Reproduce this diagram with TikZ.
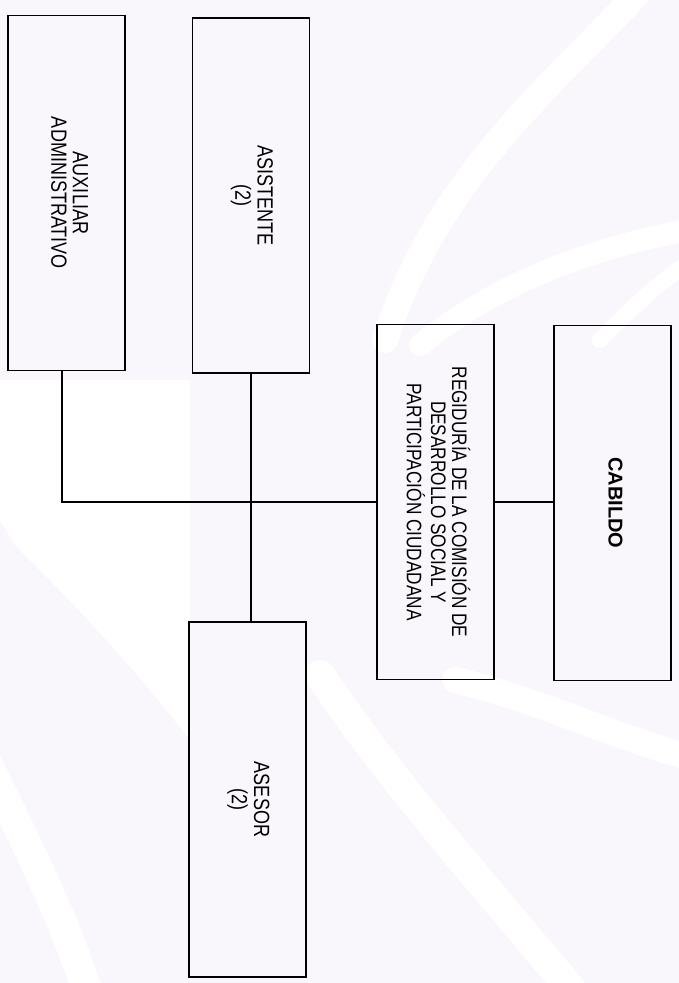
\documentclass[tikz,border=0pt]{standalone}
\usepackage{fontspec}
\setmainfont{Liberation Sans}
\newfontfamily\angosta[FakeStretch=0.82]{Liberation Sans}
\usepackage{xcolor}
\usepackage{graphicx}
\definecolor{marca}{RGB}{250,247,252}
\newcommand{\vtexto}[1]{\rotatebox{-90}{\begin{tabular}{@{}c@{}}#1\end{tabular}}}

\begin{document}
\begin{tikzpicture}[x=1pt, y=-1pt,
    caja/.style={draw, line width=1.3pt, minimum width=117pt, minimum height=355pt, inner sep=0pt, font=\angosta\fontsize{22}{21}\selectfont},
    linea/.style={line width=2.4pt},
    franja/.style={white, line width=#1, line cap=round}]
      \useasboundingbox (0,0) rectangle (679,983);
      % Fondo
      \fill[marca] (0,0) rectangle (679,983);
      \fill[white] (0,380) -- (190,380) -- (190,740) .. controls (120,650) and (60,590) .. (15,545) -- (0,520) -- cycle;
      \draw[franja=26pt] (650,-20) .. controls (560,80) and (440,170) .. (385,340);
      \draw[franja=22pt] (700,228) .. controls (600,245) and (500,280) .. (420,345);
      \draw[franja=16pt] (700,255) .. controls (660,280) and (630,310) .. (600,340);
      \draw[franja=30pt] (320,675) .. controls (390,780) and (480,880) .. (580,1000);
      \draw[franja=26pt] (455,680) .. controls (540,700) and (620,740) .. (700,760);
      \draw[franja=30pt] (-15,760) .. controls (30,850) and (65,920) .. (90,1000);

      % Nodos
      \node[caja] (aux) at (66.5,193) {\vtexto{AUXILIAR\\ADMINISTRATIVO}};
      \node[caja] (asis) at (251,195.5) {\vtexto{ASISTENTE\\(2)}};
      \node[caja, font=\angosta\fontsize{21}{20.5}\selectfont] (reg) at (435.5,502) {\raisebox{6pt}{\vtexto{REGIDURÍA DE LA COMISIÓN DE\\DESARROLLO SOCIAL Y\\PARTICIPACIÓN CIUDADANA}}};
      \node[caja, font=\bfseries\fontsize{20}{20}\selectfont] (cab) at (612.5,503) {\vtexto{CABILDO}};
      \node[caja] (ases) at (247.5,799.5) {\vtexto{ASESOR\\(2)}};

      % Lineas
      \draw[linea] ([xshift=-4.5pt]aux.south) |- (reg.west);
      \draw[linea] (asis.south) -- (asis.south |- ases.north);
      \draw[linea] (reg.east) -- (reg.east -| cab.west);
\end{tikzpicture}
\end{document}
